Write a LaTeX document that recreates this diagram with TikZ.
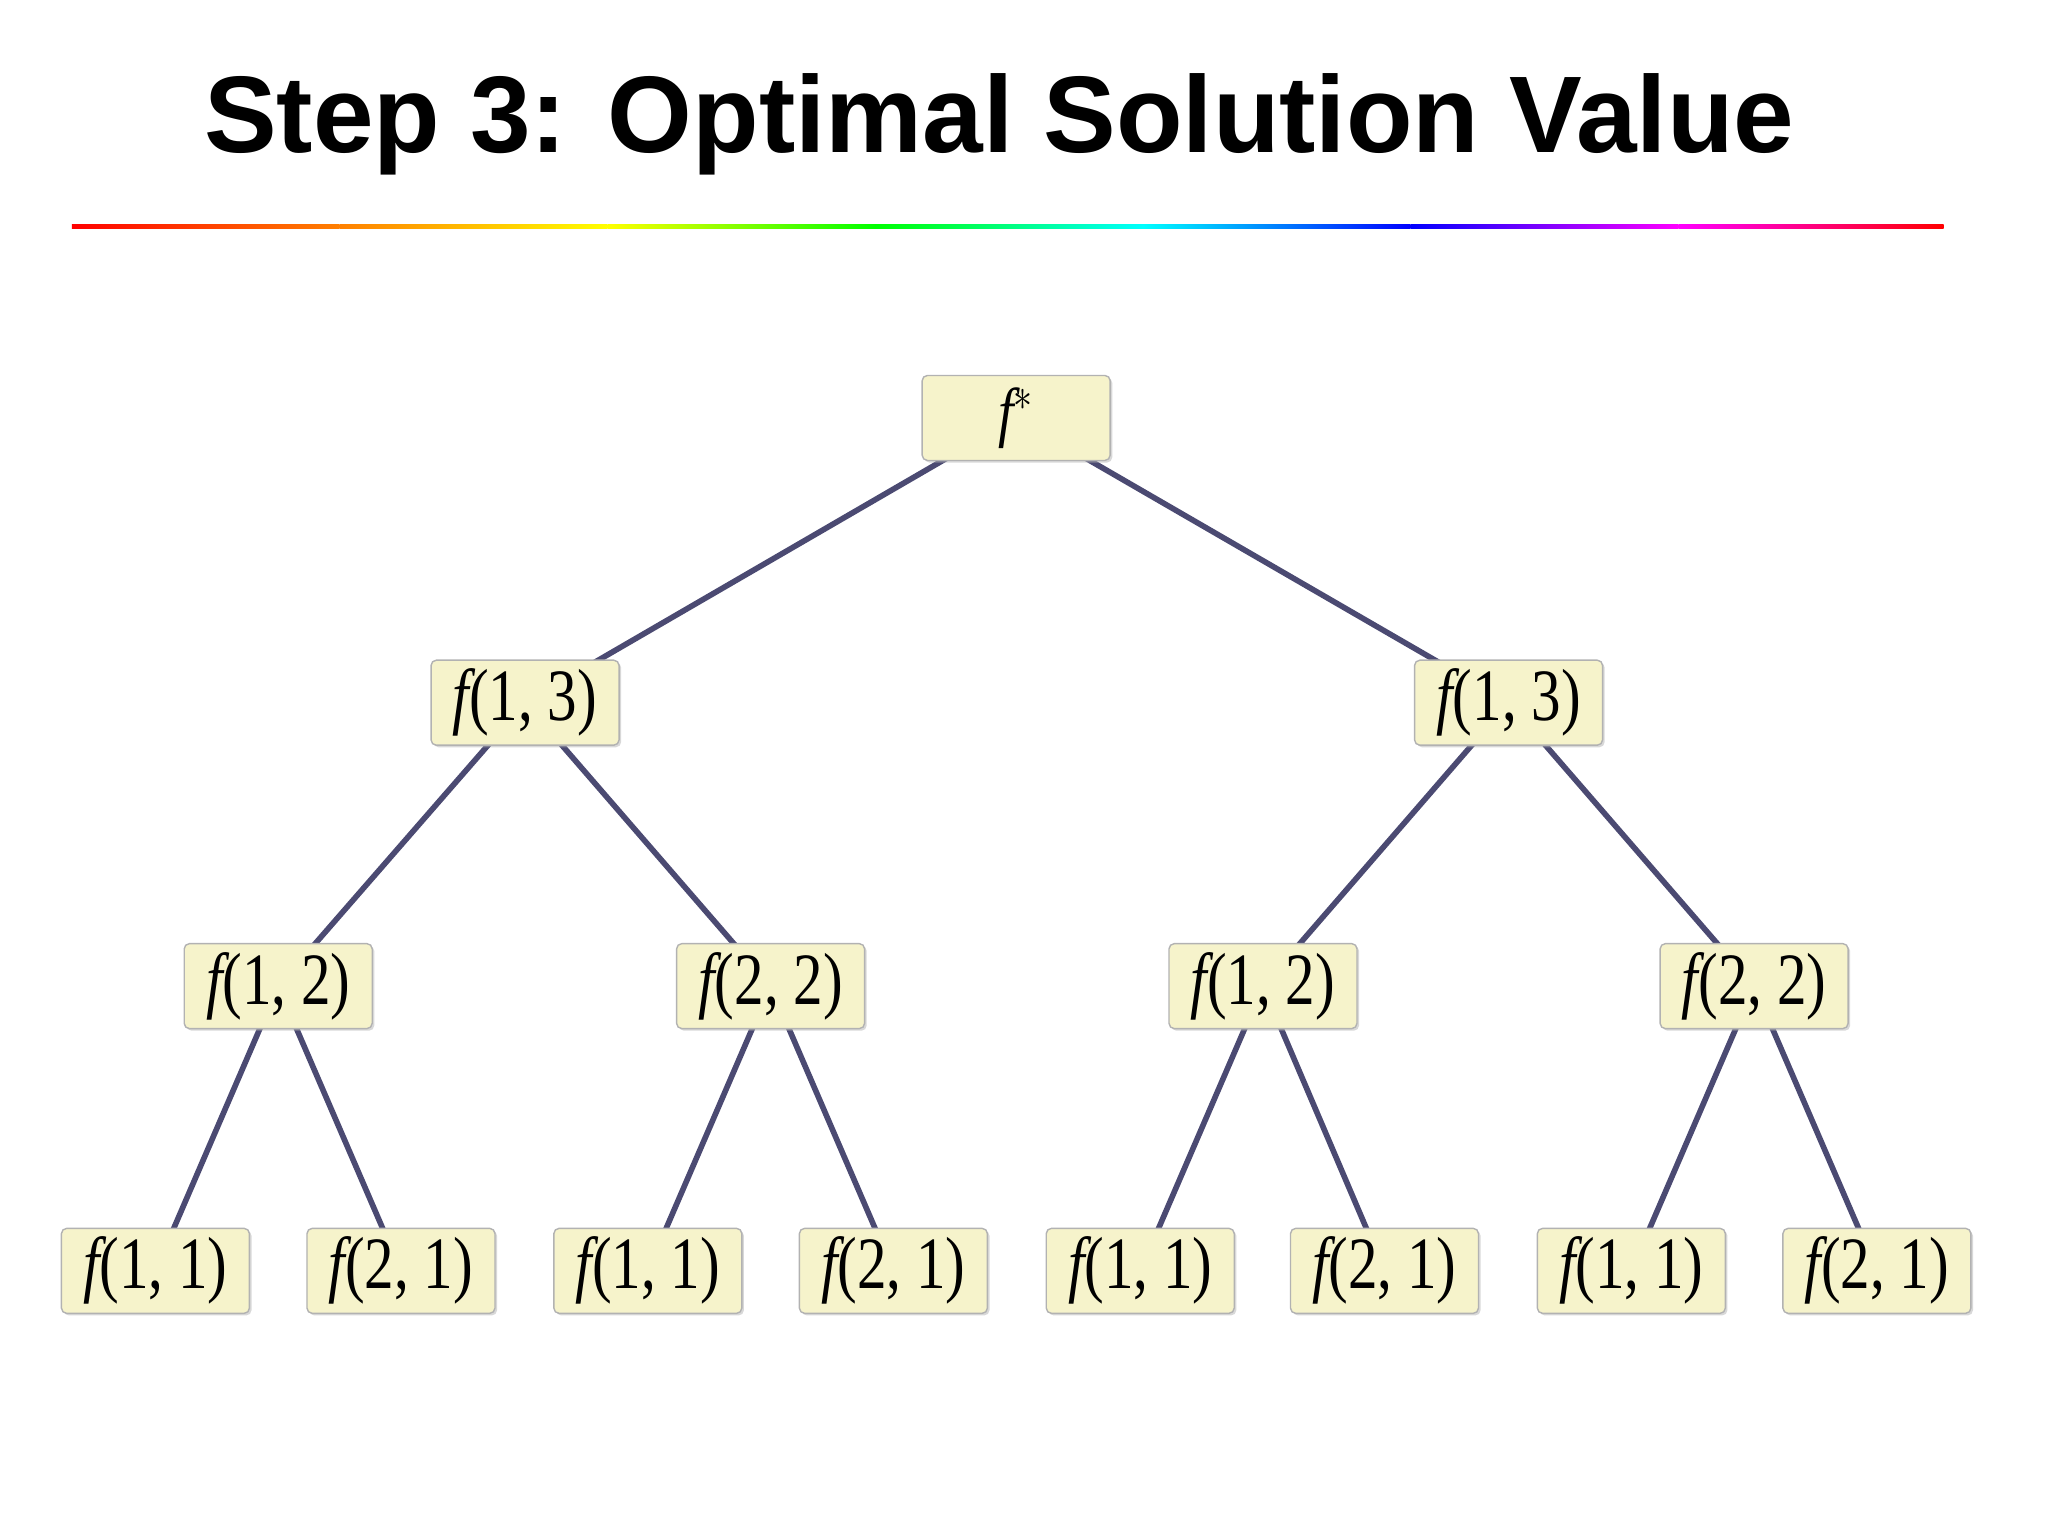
\documentclass[tikz,border=0pt]{standalone}
\usepackage{fontspec}
\setmainfont{Liberation Serif}
\newfontfamily\titlefont{Liberation Sans}
\usepackage{graphicx}
\usetikzlibrary{shadows}

\definecolor{boxfill}{HTML}{F6F3CB}
\definecolor{edgecol}{HTML}{4B4A72}

\tikzset{
	fbox/.style={draw=gray!60, fill=boxfill, rounded corners=1.5pt,
		minimum width=1.88cm, minimum height=0.85cm, inner sep=0pt,
		drop shadow={shadow xshift=0.6pt, shadow yshift=-0.6pt, fill=gray!60},
		font=\fontsize{21}{24}\selectfont},
	edge/.style={draw=edgecol, line width=1.6pt}
}
\newcommand{\fv}[1]{\scalebox{0.8}[1]{$\mathit{f}$(#1)}}

\begin{document}
\begin{tikzpicture}[x=0.01306cm, y=-0.01306cm]
	\useasboundingbox (0, 0) rectangle (1568, 1176);
	\node[font=\titlefont\bfseries\fontsize{31}{36}\selectfont] (title) at (765, 95)
		{Step 3: Optimal Solution Value};
	% rainbow rule
	\foreach \xa/\ca/\xb/\cb in {55/red/260/orange, 260/orange/465/yellow,
		465/yellow/670/green, 670/green/875/cyan, 875/cyan/1080/blue,
		1080/blue/1285/magenta, 1285/magenta/1488/red} {
		\shade[left color=\ca, right color=\cb] (\xa, 172) rectangle (\xb, 175);
	}
	% edges first, boxes on top
	\coordinate (root) at (778, 320);
	\coordinate (a) at (402, 538);
	\coordinate (b) at (1155, 538);
	\coordinate (aa) at (213, 755);
	\coordinate (ab) at (590, 755);
	\coordinate (ba) at (967, 755);
	\coordinate (bb) at (1343, 755);
	\foreach[count=\i] \x in {119, 307, 496, 684, 873, 1060, 1249, 1437} {
		\coordinate (l\i) at (\x, 973);
	}
	\path[edge]
		(root) -- (a) (root) -- (b)
		(a) -- (aa) (a) -- (ab) (b) -- (ba) (b) -- (bb)
		(aa) -- (l1) (aa) -- (l2) (ab) -- (l3) (ab) -- (l4)
		(ba) -- (l5) (ba) -- (l6) (bb) -- (l7) (bb) -- (l8);
	% tree
	\node[fbox] (nroot) at (root) {\scalebox{0.75}[0.9]{$\mathit{f}^{*}$}};
	\node[fbox] (na) at (a) {\fv{1, 3}};
	\node[fbox] (nb) at (b) {\fv{1, 3}};
	\node[fbox] (naa) at (aa) {\fv{1, 2}};
	\node[fbox] (nab) at (ab) {\fv{2, 2}};
	\node[fbox] (nba) at (ba) {\fv{1, 2}};
	\node[fbox] (nbb) at (bb) {\fv{2, 2}};
	\foreach[count=\i] \v in {1, 2, 1, 2, 1, 2, 1, 2} {
		\node[fbox] (nl\i) at (l\i) {\fv{\v, 1}};
	}
\end{tikzpicture}
\end{document}
